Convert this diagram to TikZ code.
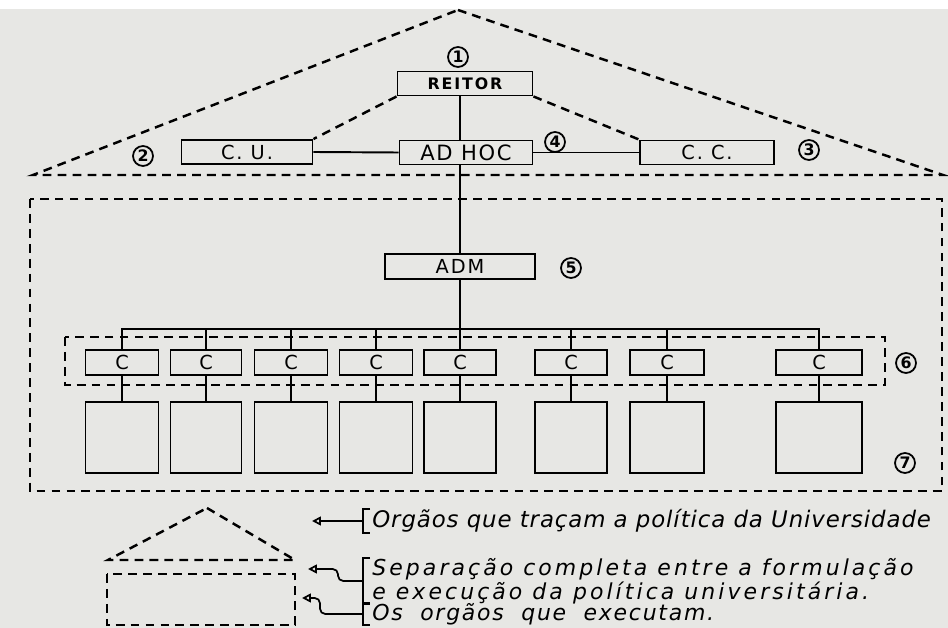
\documentclass[tikz,border=0pt]{standalone}
\usepackage{fontspec}
\usepackage{xcolor}
\usepackage{tikz}
\usetikzlibrary{arrows.meta,positioning,calc}
\setsansfont{DejaVu Sans}
\definecolor{paper}{RGB}{231,231,228}

\begin{document}
\begin{tikzpicture}[x=0.02cm, y=-0.02cm,
  box/.style={rectangle, draw, line width=1.1pt, inner sep=0pt,
              font=\sffamily\fontsize{11}{12}\selectfont\addfontfeature{LetterSpace=10}},
  top/.style={box, minimum height=0.48cm},
  cbox/.style={box, minimum height=0.5cm},
  unit/.style={box, minimum height=1.42cm},
  num/.style={circle, draw, line width=1pt, inner sep=0pt, minimum size=0.4cm,
              font=\sffamily\bfseries\small},
  link/.style={line width=1.1pt},
  dsh/.style={line width=1.4pt, dash pattern=on 5pt off 3.5pt},
  legend/.style={anchor=west, inner sep=0pt, align=left,
                 font=\sffamily\itshape\fontsize{13}{11}\selectfont},
  arr/.style={{Triangle[open, length=5pt, width=5pt]}-, line width=1pt}
]
% paper
\fill[paper] (0,0) rectangle (948,628);
\fill[white] (0,0) rectangle (948,9);
\useasboundingbox (0,0) rectangle (948,628);
\coordinate (spine) at (460,0);
\coordinate (bus)   at (0,329);

% Row 1: top of the university
\node[top, minimum width=2.7cm, font=\sffamily\bfseries\fontsize{9}{10}\selectfont\addfontfeature{LetterSpace=12}]
      (reitor) at (465,83.5)  {REITOR};
\node[top, minimum width=2.62cm] (cu)    at (247,152)   {C. U.};
\node[top, minimum width=2.66cm, font=\sffamily\fontsize{12}{13}\selectfont\addfontfeature{LetterSpace=8}]
      (adhoc)  at (466,152.5) {AD HOC};
\node[top, minimum width=2.68cm] (cc)    at (707,152.5) {C. C.};

% Row 2: administration
\node[cbox, minimum width=3.0cm] (adm) at (460,266.5) {ADM};

% Row 3: C boxes
\node[cbox, minimum width=1.46cm] (c1) at (122,362.5) {C};
\node[cbox, minimum width=1.42cm] (c2) at (206,362.5) {C};
\node[cbox, minimum width=1.46cm] (c3) at (291,362.5) {C};
\node[cbox, minimum width=1.46cm] (c4) at (376,362.5) {C};
\node[cbox, minimum width=1.44cm] (c5) at (460,362.5) {C};
\node[cbox, minimum width=1.44cm] (c6) at (571,362.5) {C};
\node[cbox, minimum width=1.48cm] (c7) at (667,362.5) {C};
\node[cbox, minimum width=1.72cm] (c8) at (819,362.5) {C};

% Row 4: units below
\node[unit, minimum width=1.46cm] (u1) at (122,437.5) {};
\node[unit, minimum width=1.42cm] (u2) at (206,437.5) {};
\node[unit, minimum width=1.46cm] (u3) at (291,437.5) {};
\node[unit, minimum width=1.46cm] (u4) at (376,437.5) {};
\node[unit, minimum width=1.44cm] (u5) at (460,437.5) {};
\node[unit, minimum width=1.44cm] (u6) at (571,437.5) {};
\node[unit, minimum width=1.48cm] (u7) at (667,437.5) {};
\node[unit, minimum width=1.72cm] (u8) at (819,437.5) {};

% numbers
\node[num] (n1)  at (458,57)  {1};
\node[num] (n2)  at (143,156) {2};
\node[num] (n4)  at (555,142) {4};
\node[num] (n3)  at (809,150) {3};
\node[num] (n5)  at (571,268) {5};
\node[num] (n6)  at (906,363) {6};
\node[num] (n7)  at (905,463) {7};

% Lines
\draw[link] (reitor.south -| spine) -- (adhoc.north -| spine);
\draw[link] (adhoc.south -| spine) -- (adm.north);
\draw[link] (adm.south) -- (c5.north);
\draw[link] (cu.east) -- (adhoc.west);
\draw[link] (adhoc.east) -- (cc.west);
\draw[link] (c1.north) -- (c1.north |- bus) -- (c8.north |- bus) -- (c8.north);
\draw[link] (c2.north) -- (c2.north |- bus);
\draw[link] (c3.north) -- (c3.north |- bus);
\draw[link] (c4.north) -- (c4.north |- bus);
\draw[link] (c6.north) -- (c6.north |- bus);
\draw[link] (c7.north) -- (c7.north |- bus);
\draw[link] (c1) -- (u1);
\draw[link] (c2) -- (u2);
\draw[link] (c3) -- (u3);
\draw[link] (c4) -- (u4);
\draw[link] (c5) -- (u5);
\draw[link] (c6) -- (u6);
\draw[link] (c7) -- (u7);
\draw[link] (c8) -- (u8);

% dashed frames
\draw[dsh] (458,10) -- (943,175) -- (33,175) -- cycle;
\draw[dsh] (reitor.south west) -- (cu.north east);
\draw[dsh] (reitor.south east) -- (cc.north west);
\draw[dsh] (30,199) rectangle (942,491);
\draw[dsh] (65,337) rectangle (885,385);

% legend
\draw[dsh] (207,508) -- (295,560) -- (108,560) -- cycle;
\draw[dsh] (107,574) rectangle (295,625);
\node[legend, font=\sffamily\itshape\fontsize{13}{11}\selectfont\addfontfeature{LetterSpace=4}]
      (l1) at (372,521) {Orgãos que traçam a política da Universidade};
\node[legend, font=\sffamily\itshape\fontsize{12.5}{11}\selectfont\addfontfeature{LetterSpace=14}]
      (l2) at (372,581) {Separação completa entre a formulação\\e execução da política universitária.};
\node[legend, font=\sffamily\itshape\fontsize{12.5}{11}\selectfont\addfontfeature{LetterSpace=8}]
      (l3) at (372,614) {Os \ orgãos \ que \ executam.};
\draw[link] ([xshift=-1pt]l1.north west) -| ([xshift=-5pt]l1.west) |- ([xshift=-1pt]l1.south west);
\draw[link] ([xshift=-1pt]l2.north west) -| ([xshift=-5pt]l2.west) |- ([xshift=-1pt]l2.south west);
\draw[link] ([xshift=-1pt]l3.north west) -| ([xshift=-5pt]l3.west) |- ([xshift=-1pt]l3.south west);
\coordinate (t1) at (312,521);
\coordinate (t2) at (308,569);
\coordinate (t3) at (302,598);
\draw[arr] (t1) -- ([xshift=-5pt]l1.west);
\draw[arr, rounded corners=3pt] (t2) -- (338,569) |- ([xshift=-5pt]l2.west);
\draw[arr, rounded corners=3pt] (t3) -- (320,598) |- ([xshift=-5pt]l3.west);
\end{tikzpicture}
\end{document}
